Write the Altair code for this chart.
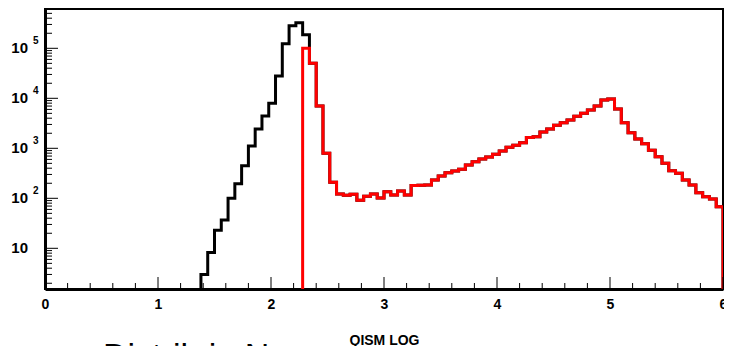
import altair as alt
import pandas as pd

# ---- histogram definition (100 bins from 0 to 6) ----
N_BINS = 100
X_MIN, X_MAX = 0.0, 6.0
BIN_W = (X_MAX - X_MIN) / N_BINS
FLOOR = 1.0  # empty-bin level, clamped to the bottom of the log axis

# black histogram: non-empty bins start at bin 23 (x = 1.38)
black_first_bin = 23
black_values = [3.0, 8.2, 23, 37, 100, 196, 450, 1110, 2430, 4430, 7940,
                27900, 124000, 283000, 325000, 187000]  # bins 23..38

# red histogram: starts at bin 38 (x = 2.28)
red_first_bin = 38
red_values = [100000, 50000, 7000, 794, 209, 122, 115, 120, 91, 110, 122, 101,
              136, 116, 140, 116, 180, 182, 185, 232, 279, 325, 352, 380, 463,
              540, 611, 670, 759, 883, 1047, 1148, 1294, 1650, 1700, 2120, 2430,
              2880, 3250, 3680, 4370, 5010, 5830, 7010, 9250, 9680, 6110, 3250,
              2050, 1535, 1230, 910, 680, 500, 356, 316, 232, 185, 129, 108, 97, 68]

# beyond bin 38 the black histogram equals the red one
black_all = black_values + red_values[1:]

x_major = [0, 1, 2, 3, 4, 5, 6]
x_minor = [0.2, 0.4, 0.6, 0.8, 1.2, 1.4, 1.6, 1.8, 2.2, 2.4, 2.6, 2.8,
           3.2, 3.4, 3.6, 3.8, 4.2, 4.4, 4.6, 4.8, 5.2, 5.4, 5.6, 5.8]
y_major = [10, 100, 1000, 10000, 100000]
y_major_base = ["10", "10", "10", "10", "10"]
y_major_exp = ["", "2", "3", "4", "5"]
y_minor = [2, 3, 4, 5, 6, 7, 8, 9,
           20, 30, 40, 50, 60, 70, 80, 90,
           200, 300, 400, 500, 600, 700, 800, 900,
           2000, 3000, 4000, 5000, 6000, 7000, 8000, 9000,
           20000, 30000, 40000, 50000, 60000, 70000, 80000, 90000,
           200000, 300000, 400000, 500000, 600000]

Y_DOMAIN = [1.535, 6.11e5]
FONT = "Liberation Sans"
PLOT_W, PLOT_H = 678, 280


def steps(first_bin, values):
    rows = [{"x": first_bin * BIN_W, "y": FLOOR, "i": 0}]
    for k, v in enumerate(values):
        rows.append({"x": (first_bin + k) * BIN_W, "y": v, "i": k + 1})
    rows.append({"x": X_MAX, "y": FLOOR, "i": len(values) + 1})
    return pd.DataFrame(rows)


black_df = steps(black_first_bin, black_all)
red_df = steps(red_first_bin, red_values)

xscale = alt.Scale(domain=[X_MIN, X_MAX], nice=False, zero=False)
yscale = alt.Scale(type="log", domain=Y_DOMAIN, nice=False, clamp=True)

xaxis = alt.Axis(values=x_major, format="d", grid=False, ticks=False, tickSize=0,
                 labelFont=FONT, labelFontWeight="bold", labelFontSize=14,
                 labelColor="black", labelPadding=8, labelFlush=False,
                 labelOverlap=False, labelBound=False,
                 domainColor="black", domainWidth=3,
                 title="QISM LOG", titleFont=FONT, titleFontWeight="bold",
                 titleFontSize=14, titleColor="black", titleX=PLOT_W / 2, titleY=55,
                 titleBaseline="alphabetic", titleAlign="center")
yaxis = alt.Axis(labels=False, ticks=False, tickSize=0, grid=False, title=None,
                 domainColor="black", domainWidth=3)

X = lambda: alt.X("x:Q", scale=xscale, axis=xaxis)
Y = lambda: alt.Y("y:Q", scale=yscale, axis=yaxis)

black_line = alt.Chart(black_df).mark_line(
    interpolate="step-after", color="black", strokeWidth=3,
    strokeJoin="miter", strokeCap="square", clip=True
).encode(x=X(), y=Y(), order=alt.Order("i:Q"))

red_line = alt.Chart(red_df).mark_line(
    interpolate="step-after", color="#ff0000", strokeWidth=3,
    strokeJoin="miter", strokeCap="butt", clip=True
).encode(x=X(), y=Y(), order=alt.Order("i:Q"))

ymaj_df = pd.DataFrame({"y": y_major, "base": y_major_base, "exp": y_major_exp})
ymin_df = pd.DataFrame({"y": y_minor})
xmaj_df = pd.DataFrame({"x": x_major})
xmin_df = pd.DataFrame({"x": x_minor})

ytick_major = alt.Chart(ymaj_df).mark_rule(color="black", strokeWidth=1).encode(
    y=Y(), x=alt.value(0), x2=alt.value(13))
ytick_minor = alt.Chart(ymin_df).mark_rule(color="black", strokeWidth=1).encode(
    y=Y(), x=alt.value(0), x2=alt.value(7))
xtick_major = alt.Chart(xmaj_df).mark_rule(color="black", strokeWidth=1).encode(
    x=X(), y=alt.value(PLOT_H), y2=alt.value(PLOT_H - 12))
xtick_minor = alt.Chart(xmin_df).mark_rule(color="black", strokeWidth=1).encode(
    x=X(), y=alt.value(PLOT_H), y2=alt.value(PLOT_H - 6))

ylab_base = alt.Chart(ymaj_df).mark_text(
    align="right", baseline="middle", font=FONT, fontWeight="bold",
    fontSize=15, color="black"
).encode(y=Y(), x=alt.value(-17), text="base:N")
ylab_exp = alt.Chart(ymaj_df).mark_text(
    align="left", baseline="middle", font=FONT, fontWeight="bold",
    fontSize=10, color="black", dy=-7
).encode(y=Y(), x=alt.value(-12), text="exp:N")

big_title = alt.Chart(pd.DataFrame({"t": ["Distrib in N"]})).mark_text(
    align="left", baseline="alphabetic", font=FONT, fontSize=34, color="black"
).encode(x=alt.value(58), y=alt.value(358), text="t:N")

chart = alt.layer(
    black_line, red_line, ytick_major, ytick_minor, xtick_major, xtick_minor,
    ylab_base, ylab_exp, big_title
).properties(
    width=PLOT_W, height=PLOT_H,
    autosize=alt.AutoSizeParams(type="none"),
    padding={"left": 37, "top": 1, "right": 1, "bottom": 57},
    background="white",
).configure_view(stroke="black", strokeWidth=2)

chart.save("out.html", embed_options={"renderer": "svg", "actions": False})
